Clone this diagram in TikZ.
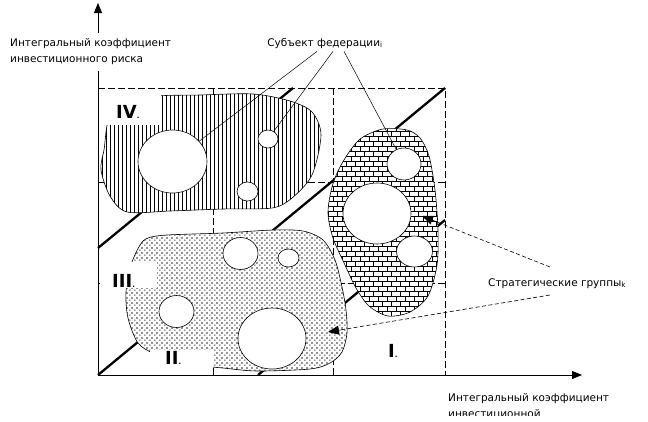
\documentclass[tikz,border=0pt]{standalone}
\usepackage{fontspec}
\setmainfont{DejaVu Sans}
\usepackage{tikz}
\usetikzlibrary{arrows.meta}
\usetikzlibrary{shapes.geometric}
\usetikzlibrary{patterns}

% fill patterns of the three zones
\pgfdeclarepatternformonly{hatchIV}{\pgfpoint{-0.1pt}{-0.1pt}}{\pgfpoint{4.1pt}{4.1pt}}{\pgfpoint{4pt}{4pt}}{
  \pgfsetlinewidth{0.8pt}
  \pgfpathmoveto{\pgfpoint{2pt}{-0.1pt}}
  \pgfpathlineto{\pgfpoint{2pt}{4.1pt}}
  \pgfusepath{stroke}
}
\pgfdeclarepatternformonly{bricksI}{\pgfpoint{-0.5pt}{-0.5pt}}{\pgfpoint{9.5pt}{10.5pt}}{\pgfpoint{9pt}{10pt}}{
  \pgfsetlinewidth{0.7pt}
  \pgfpathmoveto{\pgfpoint{0pt}{0pt}}\pgfpathlineto{\pgfpoint{9pt}{0pt}}
  \pgfpathmoveto{\pgfpoint{0pt}{5pt}}\pgfpathlineto{\pgfpoint{9pt}{5pt}}
  \pgfpathmoveto{\pgfpoint{0pt}{0pt}}\pgfpathlineto{\pgfpoint{0pt}{5pt}}
  \pgfpathmoveto{\pgfpoint{4.5pt}{5pt}}\pgfpathlineto{\pgfpoint{4.5pt}{10pt}}
  \pgfusepath{stroke}
}
\pgfdeclarepatternformonly{dotsIII}{\pgfpointorigin}{\pgfpoint{4.6pt}{4.6pt}}{\pgfpoint{4.6pt}{4.6pt}}{
  \pgfpathrectangle{\pgfpoint{0.3pt}{0.3pt}}{\pgfpoint{1.2pt}{1.2pt}}
  \pgfpathrectangle{\pgfpoint{2.6pt}{2.6pt}}{\pgfpoint{1.2pt}{1.2pt}}
  \pgfusepath{fill}
}

\newcommand{\zonedot}{{\fontsize{7}{7}\selectfont .}}

\begin{document}
\begin{tikzpicture}[x=1pt, y=-1pt,
    gridline/.style={dash pattern=on 7pt off 3pt, line width=0.6pt},
    diagline/.style={line width=2.3pt},
    zone/.style={draw, line width=0.6pt, preaction={fill=white}},
    hole/.style={draw, ellipse, fill=white, inner sep=0pt, line width=0.6pt},
    zonelabel/.style={fill=white, anchor=base west, inner ysep=0pt, align=left, font=\fontsize{18}{18}\selectfont\bfseries},
    note/.style={font=\fontsize{10.5}{16}\selectfont, align=left},
    axis/.style={line width=0.8pt, -{Triangle[length=10pt,width=8pt]}},
    leader/.style={line width=0.5pt},
    pointer/.style={dash pattern=on 4pt off 2.5pt, line width=0.6pt, -{Triangle[length=11pt,width=9pt]}}]
    \useasboundingbox (0,0) rectangle (648,421);
    \clip (0,0) rectangle (648,415);

    % grid of the nine cells
    \draw[gridline] (98,88) -- (445,88) -- (445,375);
    \draw[gridline] (213,88) -- (213,375);
    \draw[gridline] (333,88) -- (333,375);
    \draw[gridline] (98,182) -- (445,182);
    \draw[gridline] (98,283) -- (445,283);

    % diagonals
    \draw[diagline] (98,375) -- (445,88);
    \draw[diagline] (98,248) -- (293,88);
    \draw[diagline] (258,375) -- (445,220);

    % zones
    \draw[zone, pattern=hatchIV] plot[smooth cycle, tension=0.5] coordinates {
        (104,150) (112,112) (150,97) (200,95) (253,94) (290,101) (312,112) (321,135)
        (312,175) (292,198) (272,208) (223,209) (170,211) (127,212) (110,196) (101,170)};
    \draw[zone, pattern=bricksI] plot[smooth cycle, tension=0.5] coordinates {
        (363,137) (383,129) (407,130) (420,138) (429,156) (435,190) (438,230) (437,265)
        (428,296) (410,312) (388,316) (369,306) (356,288) (345,265) (333,238) (328,213)
        (332,187) (340,167) (352,148)};
    \draw[zone, pattern=dotsIII] plot[smooth cycle, tension=0.5] coordinates {
        (140,245) (148,238) (167,235) (223,233) (273,230) (303,231) (323,240) (335,260)
        (342,287) (346,310) (347,333) (342,352) (330,363) (310,369) (257,371) (223,368)
        (185,364) (155,354) (138,343) (128,318) (126,292) (131,265)};

    % subjects
    \node[hole, minimum width=69, minimum height=63] (bigIV) at (172.5,161.5) {};
    \node[hole, minimum width=20, minimum height=18] (smallIVa) at (268,139) {};
    \node[hole, minimum width=21, minimum height=19] (smallIVb) at (247.5,191.5) {};
    \node[hole, minimum width=34, minimum height=32] (topI) at (404,164) {};
    \node[hole, minimum width=68, minimum height=61] (bigI) at (377,213.5) {};
    \node[hole, minimum width=36, minimum height=31] (lowI) at (414.5,251.5) {};
    \node[hole, minimum width=35, minimum height=32] (topIII) at (240.5,253.5) {};
    \node[hole, minimum width=21, minimum height=18] (sideIII) at (288.5,258) {};
    \node[hole, minimum width=35, minimum height=32] (leftIII) at (176.5,311.5) {};
    \node[hole, minimum width=68, minimum height=61] (bigIII) at (272,338.5) {};

    % zone numbers
    \node[zonelabel, text height=26pt, text depth=7pt, text width=29pt, inner xsep=16pt] (lblIV) at (100,118) {IV\zonedot};
    \node[zonelabel, text height=25pt, text depth=1pt, text width=33pt, inner xsep=12pt] (lblIII) at (100,287) {III\zonedot};
    \node[zonelabel, text height=14pt, text depth=8pt, text width=33pt, inner xsep=15pt] (lblII) at (150,364) {II\zonedot};
    \node[zonelabel, fill=none, inner sep=0pt] (lblI) at (388,357) {I\zonedot};

    % callouts
    \node[note, anchor=base, inner sep=3pt] (subj) at (325,46) {Субъект федерации\textsubscript{i}};
    \draw[leader] ([xshift=-8pt]subj.south) -- (bigIV);
    \draw[leader] ([xshift=8pt]subj.south) -- (smallIVa);
    \draw[leader] ([xshift=19pt]subj.south) -- (topI);

    \node[note, anchor=base west, inner sep=0pt] (strat) at (488,286) {Стратегические группы\textsubscript{k}};
    \coordinate (k1) at (550,267);
    \coordinate (k2) at (550,295);
    \coordinate (tipI) at (422,216);
    \coordinate (tipIII) at (328,332);
    \draw[pointer] (k1) -- (tipI);
    \draw[pointer] (k2) -- (tipIII);

    % axes
    \coordinate (O) at (98,375);
    \coordinate (ytip) at (98,3);
    \coordinate (xtip) at (582,375);
    \draw[axis] (O) -- (ytip);
    \draw[axis] (O) -- (xtip);
    \node[note, fill=white, anchor=west, inner xsep=0pt, inner ysep=6pt] (ylab) at (10,52) {Интегральный коэффициент\\инвестиционного риска};
    \node[note, anchor=west, inner sep=0pt] (xlab) at (448,406) {Интегральный коэффициент\\инвестиционной};

\end{tikzpicture}
\end{document}
